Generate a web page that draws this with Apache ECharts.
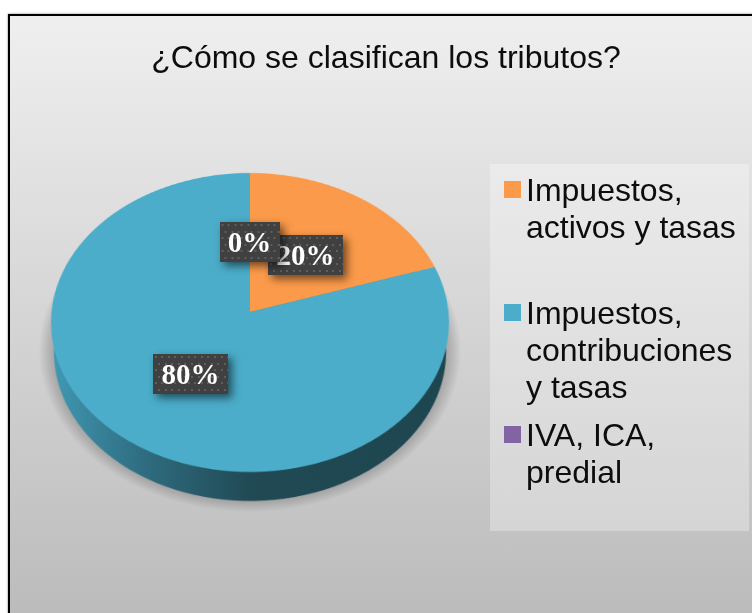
<!DOCTYPE html>
<html>
<head>
<meta charset="utf-8">
<script src="https://cdn.jsdelivr.net/npm/echarts@6/dist/echarts.min.js"></script>
<style>
  html, body { margin: 0; width: 752px; height: 613px; overflow: hidden; background: #fff; }
  .frame {
    position: absolute; left: 8px; top: 14px; width: 760px; height: 620px;
    border: 2px solid #000; box-sizing: border-box;
    box-shadow: 0 0 2px #777;
    background: linear-gradient(#efefef, #bababa);
  }
  #pie3d, #front { position: absolute; left: 0; top: 0; width: 752px; height: 613px; }
  /* the pie is tilted back with perspective, the way the 3D pie looks in the original */
  #pie3d { transform-origin: 250px 312px; transform: perspective(1872px) rotateX(41.46deg); }
</style>
</head>
<body>
<div class="frame"></div>
<div id="pie3d"></div>
<div id="front"></div>
<script>
  const titleText = "¿Cómo se clasifican los tributos?";
  const categories = ["Impuestos,\nactivos y tasas", "Impuestos,\ncontribuciones\ny tasas", "IVA, ICA,\npredial"];
  const values = [20, 80, 0];
  const colors = ["#FB9A4A", "#4BADC9", "#8264A4"];

  const pieData = categories.map((name, i) => ({ name, value: values[i] }));

  // tilted pie: soft shadow, side wall, top face
  const pieChart = echarts.init(document.getElementById("pie3d"), null, { devicePixelRatio: 2 });
  const sideColor = new echarts.graphic.LinearGradient(51, 0, 449, 0, [
    { offset: 0, color: "#429CB8" },
    { offset: 0.25, color: "#2F6D80" },
    { offset: 0.5, color: "#214A55" },
    { offset: 1, color: "#1E4650" },
  ], true);
  const shadowColor = new echarts.graphic.RadialGradient(250, 348, 208, [
    { offset: 0.88, color: "rgba(0,0,0,0.32)" },
    { offset: 0.95, color: "rgba(0,0,0,0.15)" },
    { offset: 1, color: "rgba(0,0,0,0)" },
  ], true);

  pieChart.setOption({
    animation: false,
    series: [
      {
        type: "pie",
        silent: true,
        center: [250, 348],
        radius: [0, 208],
        label: { show: false },
        itemStyle: { color: shadowColor },
        data: pieData,
      },
      {
        type: "pie",
        silent: true,
        center: [250, 350.5],
        radius: [0, 193],
        label: { show: false },
        itemStyle: { color: sideColor },
        data: pieData,
      },
      {
        type: "pie",
        silent: true,
        center: [250, 312],
        radius: [0, 198.5],
        startAngle: 90,
        label: { show: false },
        data: pieData.map((d, i) => ({ ...d, itemStyle: { color: colors[i] } })),
      },
    ],
  });

  // dotted dark background of the value labels
  const labelBox = (w, h) => {
    const c = document.createElement("canvas");
    c.width = w;
    c.height = h;
    const ctx = c.getContext("2d");
    ctx.fillStyle = "#404040";
    ctx.fillRect(0, 0, w, h);
    ctx.fillStyle = "#5e5e5e";
    for (let y = 2, row = 0; y < h; y += 6.6, row++) {
      for (let x = row % 2 ? 5 : 1.5; x < w; x += 6.6) {
        ctx.fillRect(Math.round(x), Math.round(y), 2, 2);
      }
    }
    return c;
  };

  // where each value label sits: centre x, centre y, box width
  const labelSpots = [[305.5, 255, 75], [190.5, 374, 75], [249.5, 242, 60]];

  const frontChart = echarts.init(document.getElementById("front"));
  const legendFont = {
    fontFamily: "Liberation Sans",
    fontSize: 32,
    lineHeight: 37,
    color: "#0d0d0d",
    rich: { gap2: { lineHeight: 42 }, gap3: { lineHeight: 39.5 } },
  };
  const legendTops = [131.5, 217.5, 376.5];

  frontChart.setOption({
    animation: false,
    title: {
      text: titleText,
      left: 386,
      top: 59,
      textAlign: "center",
      textVerticalAlign: "middle",
      padding: 0,
      textStyle: { fontFamily: "Liberation Sans", fontSize: 32, fontWeight: "normal", color: "#0d0d0d" },
    },
    graphic: [{
      type: "rect",
      z: -1,
      shape: { x: 490, y: 164, width: 259, height: 367 },
      style: { fill: "rgba(255,255,255,0.3)" },
    }],
    // the marker sits on the first text line, so blank lines go in front of the text
    legend: categories.map((name, i) => ({
      left: 504,
      top: legendTops[i],
      padding: 0,
      icon: "rect",
      itemWidth: 17,
      itemHeight: 17,
      selectedMode: false,
      formatter: (n) => {
        const lines = n.split("\n").length;
        return `{gap${lines}| }\n`.repeat(lines - 1) + n;
      },
      textStyle: legendFont,
      data: [{ name, itemStyle: { color: colors[i] } }],
    })),
    series: [{
      type: "pie",
      silent: true,
      center: [250, 312],
      radius: [0, 150],
      startAngle: 90,
      percentPrecision: 0,
      itemStyle: { color: "transparent" },
      labelLine: { show: false },
      label: {
        show: true,
        position: "inside",
        formatter: "{v|{d}%}",
        align: "center",
        verticalAlign: "middle",
        height: 40,
        rich: {
          v: {
            fontFamily: "Liberation Serif",
            fontWeight: "bold",
            fontSize: 29,
            color: "#fff",
            lineHeight: 40,
            padding: [6, 0, 0, 0],
          },
        },
        shadowBlur: 8,
        shadowOffsetX: 4,
        shadowOffsetY: 4,
        shadowColor: "rgba(0,0,0,0.55)",
      },
      labelLayout: (p) => ({
        x: labelSpots[p.dataIndex][0],
        y: labelSpots[p.dataIndex][1],
        align: "center",
        verticalAlign: "middle",
      }),
      data: pieData.map((d, i) => ({
        ...d,
        label: {
          width: labelSpots[i][2],
          backgroundColor: { image: labelBox(labelSpots[i][2], 40) },
        },
      })),
    }],
  });
</script>
</body>
</html>
